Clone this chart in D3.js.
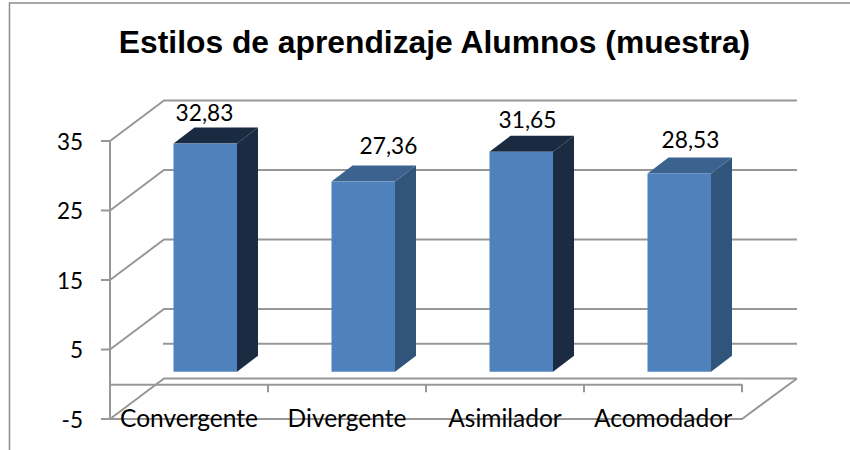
<!DOCTYPE html>
<html><head><meta charset="utf-8">
<script src="https://cdn.jsdelivr.net/npm/d3@7/dist/d3.min.js"></script>
<style>html,body{margin:0;padding:0;background:#fff}svg{display:block}</style>
</head><body><svg id="c" width="850" height="450"></svg>
<script>
const title = "Estilos de aprendizaje Alumnos (muestra)";
const categories = ["Convergente","Divergente","Asimilador","Acomodador"];
const values = [32.83,27.36,31.65,28.53];
const valueLabels = ["32,83","27,36","31,65","28,53"];
const yTicks = [-5,5,15,25,35];
const sideColors = ["#1b2b41","#31547b","#1b2b41","#31547b"];
const topColors = ["#1a2a40","#3c6290","#1a2a40","#3c6290"];
const labelNudgeX = [31,57,38,43];
const labelNudgeY = [-6.6,-11.6,-8,-9.7];

const svg = d3.select("#c");
const y = d3.scaleLinear().domain([-5,35]).range([419,141]);
const x = d3.scaleBand().domain(categories).range([110,742]);
const backDx = 54, backDy = -40.5;
const barDy = -12.5, depthX = 21, depthY = -16;
const barW = 63.5;
const grid = "#979797", labelFont = "Lato, 'Open Sans', sans-serif";

// border: top and left edges only
svg.append("path").attr("d","M9.5,450V3H850").attr("fill","none").attr("stroke","#8c8c8c").attr("stroke-width",1.5);

// title
svg.append("text").attr("x",434.5).attr("y",53).attr("text-anchor","middle")
  .attr("font-family","'Liberation Sans',Arial,sans-serif").attr("font-weight","bold").attr("font-size",31.8).attr("fill","#000").text(title);

const g = svg.append("g").attr("fill","none").attr("stroke",grid).attr("stroke-width",2);
yTicks.forEach(t=>{
  const yy=y(t);
  g.append("path").attr("d",`M110,${yy}L${110+backDx},${yy+backDy}H797`);
  g.append("line").attr("x1",101).attr("x2",110).attr("y1",yy).attr("y2",yy);
});
g.append("line").attr("x1",163).attr("x2",797).attr("y1",y(0)+backDy).attr("y2",y(0)+backDy);
g.append("path").attr("d",`M110,${y(-5)}H${x.range()[1]}L797,${y(-5)+backDy}`);
g.append("line").attr("x1",110).attr("x2",110).attr("y1",y(35)).attr("y2",y(-5));
g.append("line").attr("x1",110).attr("x2",x.range()[1]).attr("y1",y(0)+.5).attr("y2",y(0)+.5);
[...categories.map(c=>x(c)), x.range()[1]].forEach(px=>{
  g.append("line").attr("x1",px).attr("x2",px).attr("y1",y(0)).attr("y2",y(0)+8);
});

// bars
const bars = svg.selectAll(".bar").data(categories).join("g").attr("class","bar");
const bx = c => x(c)+x.bandwidth()/2-15.5;
const base = y(0)+barDy;
const top_ = v => y(v)+barDy;
bars.each(function(c,i){
  const s=d3.select(this), L=bx(c), R=L+barW, T=top_(values[i]);
  s.append("path").attr("d",`M${R},${T}L${R+depthX},${T+depthY}V${base+depthY}L${R},${base}Z`).attr("fill",sideColors[i]);
  s.append("path").attr("d",`M${L},${T}L${L+depthX},${T+depthY}H${R+depthX}L${R},${T}Z`).attr("fill",topColors[i]);
  s.append("rect").attr("x",L).attr("y",T).attr("width",barW).attr("height",base-T).attr("fill","#4f81bd");
  s.append("text").attr("x",L+labelNudgeX[i]).attr("y",T+depthY+labelNudgeY[i])
    .attr("text-anchor","middle").attr("font-family",labelFont).attr("font-size",22.7).attr("fill","#000").text(valueLabels[i]);
});

// axis labels
svg.selectAll(".yl").data(yTicks).join("text").attr("x",83).attr("y",d=>y(d)+8.5).attr("text-anchor","end")
  .attr("font-family",labelFont).attr("font-size",22.5).attr("fill","#000").text(d=>d);
svg.selectAll(".xl").data(categories).join("text").attr("x",c=>x(c)+x.bandwidth()/2).attr("y",426.5).attr("text-anchor","middle")
  .attr("font-family",labelFont).attr("font-size",24.5).attr("fill","#000").text(c=>c);
</script></body></html>
